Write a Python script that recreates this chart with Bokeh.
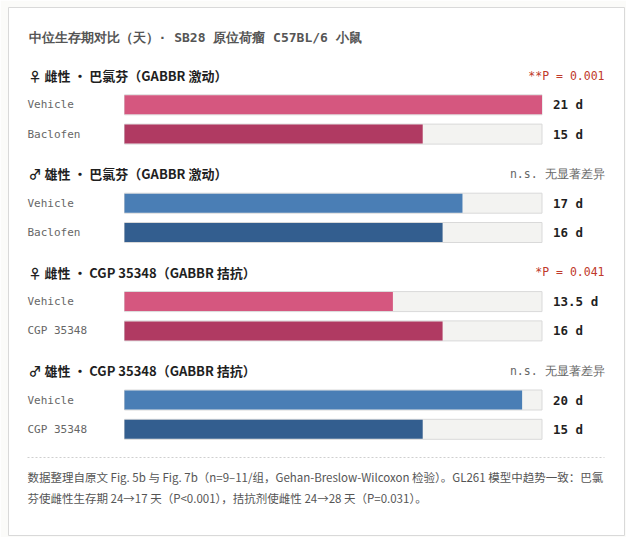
from bokeh.plotting import figure
from bokeh.models import Range1d, ColumnDataSource, Label
from bokeh.core.properties import value
from bokeh.embed import file_html
from bokeh.resources import INLINE

# ---- data ----
title_text = "中位生存期对比（天）· SB28 原位荷瘤 C57BL/6 小鼠"
panel_titles = ["♀ 雌性 · 巴氯芬（GABBR 激动）",
                "♂ 雄性 · 巴氯芬（GABBR 激动）",
                "♀ 雌性 · CGP 35348（GABBR 拮抗）",
                "♂ 雄性 · CGP 35348（GABBR 拮抗）"]
panel_stats = ["**P = 0.001", "n.s. 无显著差异", "*P = 0.041", "n.s. 无显著差异"]
stat_signif = [True, False, True, False]
row_labels = [["Vehicle", "Baclofen"], ["Vehicle", "Baclofen"],
              ["Vehicle", "CGP 35348"], ["Vehicle", "CGP 35348"]]
days = [[21, 15], [17, 16], [13.5, 16], [20, 15]]
day_labels = [["21 d", "15 d"], ["17 d", "16 d"], ["13.5 d", "16 d"], ["20 d", "15 d"]]
axis_max = 21
footer_lines = ["数据整理自原文 Fig. 5b 与 Fig. 7b（n=9–11/组，Gehan-Breslow-Wilcoxon 检验）。GL261 模型中趋势一致：巴氯",
                "芬使雌性生存期 24→17 天（P<0.001），拮抗剂使雌性 24→28 天（P=0.031）。"]

# ---- styling / layout ----
FW, FH = 616, 528          # card (frame) size
ML, MT = 8, 7              # card offset on the page
track_left_px, track_w_px = 116, 417.5
px_per_day = track_w_px / axis_max
x0 = -track_left_px / px_per_day
x1 = (FW - track_left_px) / px_per_day
female_cols = ["#d5577f", "#b03a62"]
male_cols = ["#4a7eb5", "#335e8f"]
mono = "DejaVu Sans Mono"
cjk = "Noto Sans CJK SC"

p = figure(width=FW + ML + 2, height=FH + MT + 2, output_backend="svg", toolbar_location=None,
           x_range=Range1d(x0, x1), y_range=Range1d(FH, 0),
           min_border_left=ML, min_border_top=MT, min_border_right=2, min_border_bottom=2,
           background_fill_color="white", border_fill_color="#fbfbf9",
           outline_line_color="#d9d9d9", outline_line_width=1)
p.axis.visible = False
p.grid.visible = False

header_y0, panel_step, row_step = 68, 98.4, 29.3

ty, tval, tlab, tvl, tcols = [], [], [], [], []
for i in range(4):
    hy = header_y0 + i * panel_step
    cols = female_cols if i % 2 == 0 else male_cols
    for j in range(2):
        ty.append(hy + row_step * (j + 1))
        tval.append(days[i][j])
        tlab.append(row_labels[i][j])
        tvl.append(day_labels[i][j])
        tcols.append(cols[j])
    p.add_layout(Label(x=20, y=FH - hy, x_units="screen", y_units="screen",
                       text=panel_titles[i], text_font=cjk, text_font_style="bold",
                       text_font_size="13px", text_color="#1f1f1f", text_baseline="middle"))
    p.add_layout(Label(x=596, y=FH - hy, x_units="screen", y_units="screen",
                       text=panel_stats[i], text_font=mono, text_font_size="11.5px",
                       text_color="#c0392b" if stat_signif[i] else "#666666",
                       text_align="right", text_baseline="middle"))

src = ColumnDataSource(dict(y=ty, v=tval, lab=tlab, vl=tvl, c=tcols,
                            full=[axis_max] * len(ty)))
p.hbar(y="y", left=0, right="full", height=20, source=src,
       fill_color="#f3f3f1", line_color="#d9d9d9", line_width=1)
p.hbar(y="y", left=0, right="v", height=19, source=src, fill_color="c", line_color=None)
p.text(x=x0 + 19 / px_per_day, y="y", text="lab", source=src, text_font=value(mono),
       text_font_size="11px", text_color="#666666", text_baseline="middle")
p.text(x=axis_max + 11 / px_per_day, y="y", text="vl", source=src, text_font=value(mono),
       text_font_style="bold", text_font_size="12.5px", text_color="#1f1f1f",
       text_baseline="middle")

p.add_layout(Label(x=20, y=FH - 30, x_units="screen", y_units="screen", text=title_text,
                   text_font=mono, text_font_style="bold", text_font_size="13px",
                   text_color="#555555", text_baseline="middle"))

p.line(x=[x0 + 19 / px_per_day, x1 - 20 / px_per_day], y=[450, 450],
       line_color="#cfcfcf", line_width=1, line_dash="2 2")

for k, t in enumerate(footer_lines):
    p.add_layout(Label(x=19, y=FH - (469.5 + 21 * k), x_units="screen", y_units="screen",
                       text=t, text_font=cjk, text_font_size="11.5px",
                       text_color="#555555", text_baseline="middle"))

open("out.html", "w").write(file_html(p, INLINE))
